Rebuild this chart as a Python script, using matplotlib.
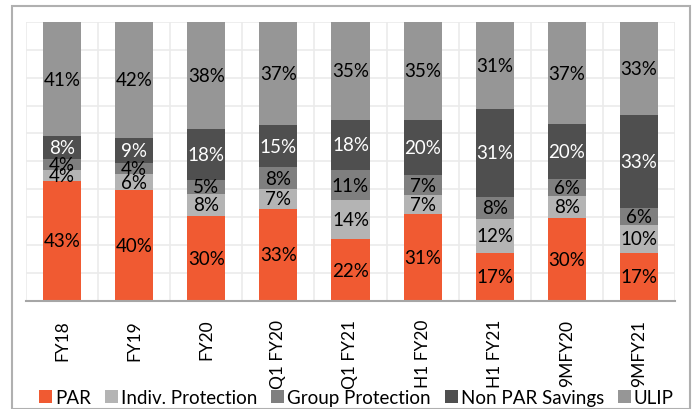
import matplotlib
matplotlib.use("Agg")
import matplotlib.pyplot as plt
from matplotlib.patches import Rectangle, Patch
import numpy as np

categories = ["FY18", "FY19", "FY20", "Q1 FY20", "Q1 FY21", "H1 FY20", "H1 FY21", "9MFY20", "9MFY21"]
series_names = ["PAR", "Indiv. Protection", "Group Protection", "Non PAR Savings", "ULIP"]
par = [43, 40, 30, 33, 22, 31, 17, 30, 17]
indiv = [4, 6, 8, 7, 14, 7, 12, 8, 10]
group = [4, 4, 5, 8, 11, 7, 8, 6, 6]
nonpar = [8, 9, 18, 15, 18, 20, 31, 20, 33]
ulip = [41, 42, 38, 37, 35, 35, 31, 37, 33]

colors = ["#F05A32", "#B4B4B4", "#7F7F7F", "#4F4F4F", "#969696"]
label_colors = ["black", "black", "black", "white", "black"]

plt.rcParams['font.family'] = ['Lato', 'DejaVu Sans']

fig = plt.figure(figsize=(6.96, 4.10), dpi=100)
ax = fig.add_axes([26/696, 1 - 301.7/410, (675-26)/696, (301.7-23)/410])

data = np.array([par, indiv, group, nonpar, ulip], dtype=float)
totals = data.sum(axis=0)
heights = data / totals * 100
x = np.arange(len(categories))
bottom = np.zeros(len(categories))
for i in range(len(series_names)):
    ax.bar(x, heights[i], bottom=bottom, width=0.53, color=colors[i], zorder=3,
           label=series_names[i])
    for j in range(len(categories)):
        ax.text(x[j], bottom[j] + heights[i][j] / 2, f"{int(data[i][j])}%",
                ha='center', va='center', fontsize=13.5, color=label_colors[i], zorder=4)
    bottom += heights[i]

ax.set_xlim(-0.5, len(categories) - 0.5)
ax.set_ylim(0, 100)
ax.set_yticks(np.arange(0, 101, 10))
ax.set_yticklabels([])
ax.tick_params(axis='y', length=0)
ax.set_xticks(np.arange(-0.5, len(categories), 1), minor=False)
ax.set_xticklabels([])
ax.tick_params(axis='x', length=0)
ax.set_xticks(x, minor=True)
ax.set_xticklabels(categories, minor=True, rotation=90, fontsize=12.5)
ax.tick_params(axis='x', which='minor', length=0, pad=13)
ax.grid(True, which='major', color='#EBEBEB', linewidth=1.2, zorder=0)
for s in ['top', 'right', 'left']:
    ax.spines[s].set_visible(False)
ax.spines['bottom'].set_color('#A6A6A6')
ax.spines['bottom'].set_linewidth(1.5)
ax.spines['bottom'].set_zorder(5)

handles = [Patch(facecolor=c, edgecolor='none') for c in colors]
fig.legend(handles, series_names, loc='lower center', bbox_to_anchor=(0.512, -0.035),
           ncol=5, frameon=False, fontsize=13.5, handlelength=0.7, handleheight=0.7,
           handletextpad=0.15, columnspacing=0.75)

fig.patches.append(Rectangle((12/696, 0), (690-12)/696, 1 - 7/410, transform=fig.transFigure,
                             fill=False, edgecolor='#B0B0B0', linewidth=1.5))

fig.savefig("out.png", dpi=100)
